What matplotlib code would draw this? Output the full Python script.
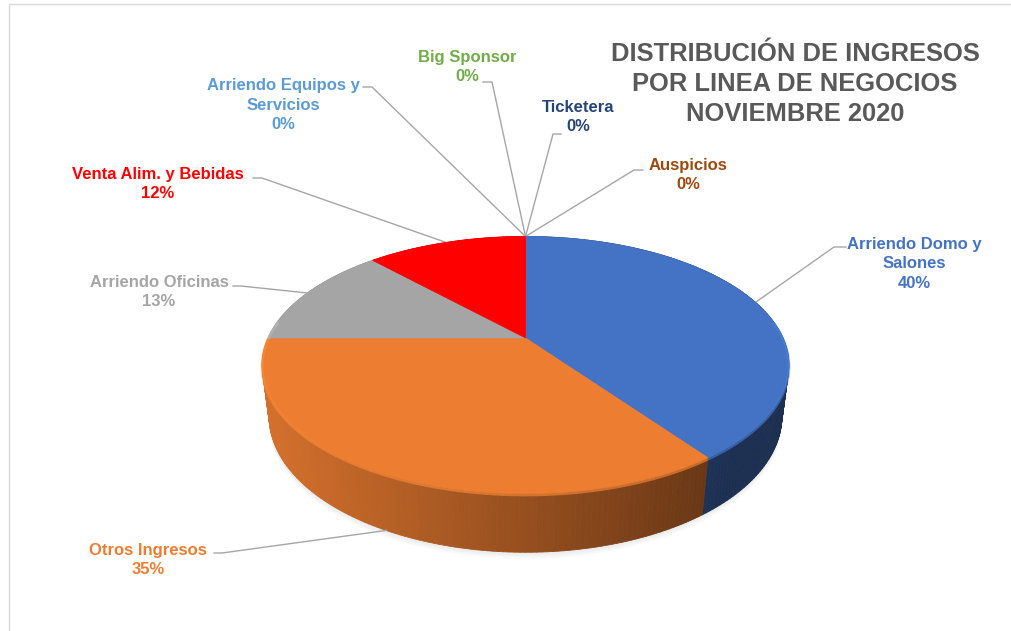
import numpy as np
import matplotlib
matplotlib.use("Agg")
import matplotlib.pyplot as plt
from matplotlib.collections import PolyCollection

plt.rcParams['font.family'] = ['Liberation Sans', 'DejaVu Sans']

# data
categories = ["Arriendo Domo y\nSalones", "Otros Ingresos", "Arriendo Oficinas",
              "Venta Alim. y Bebidas", "Arriendo Equipos y\nServicios", "Big Sponsor",
              "Ticketera", "Auspicios"]
values = [40, 35, 13, 12, 0, 0, 0, 0]
colors = ["#4472C4", "#ED7D31", "#A5A5A5", "#FF0000",
          "#5B9BD5", "#70AD47", "#264478", "#9E480E"]
title = "DISTRIBUCIÓN DE INGRESOS\nPOR LINEA DE NEGOCIOS\nNOVIEMBRE 2020"

# label layout (pixel coords): text centre and the little stub near the text
label_pos = [(914, 264), (148, 560), (159, 292), (158, 184),
             (283, 105), (467, 67), (578, 117), (688, 175)]
stubs = [((846, 247), (834, 247)), ((214, 553), (222, 553)),
         ((233, 286), (241, 286)), ((253, 178), (262, 178)),
         ((363, 87), (372, 87)), ((483, 82), (492, 82)),
         ((561, 134), (553, 134)), ((643, 170), (634, 170))]

# 3d pie geometry (perspective view of a disk, pixel units)
CX, Y0, F = 525.5, 338.0, 257.5
R, S, C = 0.21, 0.477, 0.879
DD = C / R
H = 0.23


def proj(theta, lev=0.0):
    X, Z = np.sin(theta), np.cos(theta)
    den = 1 + R * Z - lev * S / DD
    return CX + F * X / den, Y0 - F * (Z * S + lev * C) / den


def shade(hexcol, f):
    rgb = np.array(matplotlib.colors.to_rgb(hexcol))
    return tuple(np.clip(rgb * f, 0, 1))


fig = plt.figure(figsize=(10.11, 6.31), dpi=100)
ax = fig.add_axes([0, 0, 1, 1])
ax.set_xlim(0, 1011)
ax.set_ylim(631, 0)
ax.axis("off")

total = float(sum(values))
bounds = np.concatenate([[0], np.cumsum(values)]) / total * 2 * np.pi

# faint shadow under the pie
tt = np.linspace(0, 2 * np.pi, 200)
for k in range(6):
    sx, sy = proj(tt, -H)
    ax.fill(sx, sy + 2 + k, color="#808080", alpha=0.025, lw=0, zorder=0)

# sides
quads, qcols, qz = [], [], []
for i, v in enumerate(values):
    if v == 0:
        continue
    a0, a1 = bounds[i], bounds[i + 1]
    n = max(2, int(np.degrees(a1 - a0)))
    ts = np.linspace(a0, a1, n + 1)
    for t0, t1 in zip(ts[:-1], ts[1:]):
        p = [proj(t0), proj(t1), proj(t1, -H), proj(t0, -H)]
        xm = (p[0][0] + p[1][0]) / 2
        f = 0.9 - 0.45 * (xm - 260) / 445
        f = max(f, 0.42)
        quads.append(p)
        qcols.append(shade(colors[i], f))
        qz.append(np.cos((t0 + t1) / 2))
order = np.argsort(qz)[::-1]
pc = PolyCollection([quads[k] for k in order], facecolors=[qcols[k] for k in order],
                    edgecolors=[qcols[k] for k in order], linewidths=0.6, zorder=1)
ax.add_collection(pc)

# top faces
for i, v in enumerate(values):
    if v == 0:
        continue
    a0, a1 = bounds[i], bounds[i + 1]
    ts = np.linspace(a0, a1, 200)
    xs, ys = proj(ts)
    ax.fill(np.r_[CX, xs], np.r_[Y0, ys], color=colors[i], ec=colors[i], lw=0.5, zorder=3)
    # soft highlight on the front rim
    front = ts[np.cos(ts) < 0.15]
    if len(front):
        hx, hy = proj(front)
        ax.plot(hx, hy + 1.5, color=shade(colors[i], 1.12), lw=2.0, alpha=0.6, zorder=3,
                solid_capstyle="butt")

# labels and leader lines
for i, v in enumerate(values):
    mid = (bounds[i] + bounds[i + 1]) / 2
    if np.cos(mid) < 0:
        anchor = proj(mid, -H)
    else:
        anchor = proj(mid)
    (sx, sy), (ex, ey) = stubs[i]
    ax.plot([sx, ex, anchor[0]], [sy, ey, anchor[1]], color="#A6A6A6", lw=1.0, zorder=2)
    pct = round(v / total * 100)
    tx, ty = label_pos[i]
    ax.text(tx, ty, f"{categories[i]}\n{pct}%", ha="center", va="center",
            fontsize=12, fontweight="bold", color=colors[i], linespacing=1.37, zorder=5)

ax.text(795, 84, title, ha="center", va="center", fontsize=18.4,
        fontweight="bold", color="#595959", linespacing=1.34)

# thin frame on the left and top
ax.plot([8.5, 8.5, 1011], [631, 3.5, 3.5], color="#D9D9D9", lw=1.0)

fig.savefig("out.png", dpi=100)
